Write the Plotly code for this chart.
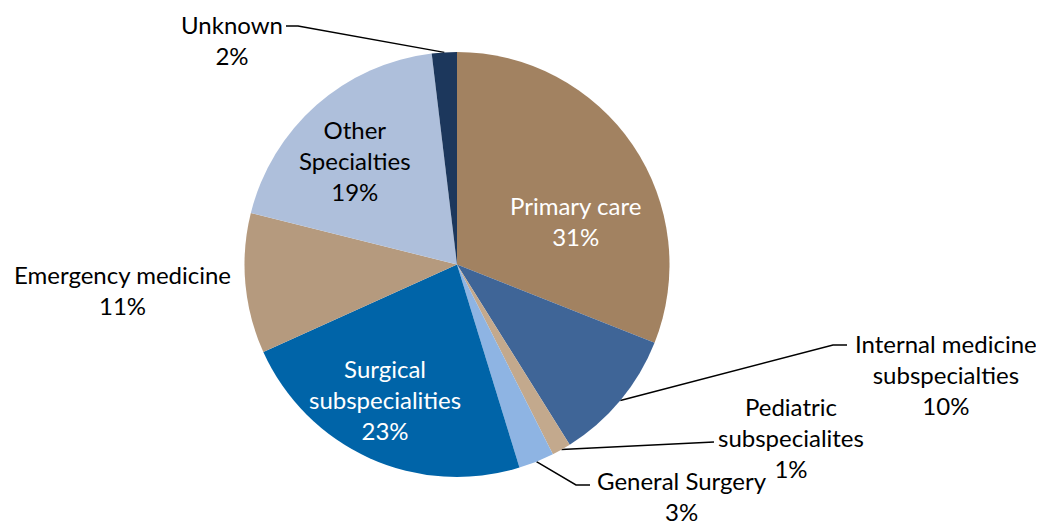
import math
import plotly.graph_objects as go

# ---- data ----
labels = ["Primary care", "Internal medicine<br>subspecialties", "Pediatric<br>subspecialites",
          "General Surgery", "Surgical<br>subspecialities", "Emergency medicine",
          "Other<br>Specialties", "Unknown"]
values = [31.0, 10.1, 1.45, 2.7, 23.0, 10.65, 19.2, 1.9]
colors = ["#A28261", "#3F6597", "#C3A98D", "#8EB4E3", "#0064A8", "#B59A7E", "#AEBFDB", "#1C375C"]

# window geometry (page body has an 8px margin)
WIN_W, WIN_H, OFF = 1044, 526, 8
W, H = WIN_W - OFF, WIN_H - OFF
CX, CY, R = 457, 264.5, 212.5

# label placement (window pixels): (x, y, font colour, leader elbow points or None)
label_pos = [
    (575, 221, "white", None),
    (946, 374, "black", [(833, 345), (847, 345)]),
    (791, 437, "black", [(708, 442), (714, 442)]),
    (682, 496, "black", [(576, 485), (590, 485)]),
    (385, 399, "white", None),
    (122, 290, "black", None),
    (355, 160, "black", None),
    (232, 40, "black", [(298, 26), (286, 26)]),
]

FONT = "Lato, Calibri, Carlito, sans-serif"

fig = go.Figure()
fig.add_trace(go.Pie(
    labels=labels, values=values, sort=False, direction="clockwise", rotation=0,
    marker=dict(colors=colors, line=dict(width=0)),
    textinfo="none", hoverinfo="label+percent", showlegend=False,
    domain=dict(x=[(CX - R - OFF) / W, (CX + R - OFF) / W],
                y=[(WIN_H - CY - R) / H, (WIN_H - CY + R) / H]),
))

# invisible pixel axes for annotations & leader lines (window coordinates)
fig.add_trace(go.Scatter(x=[OFF, WIN_W], y=[OFF, WIN_H], mode="markers", marker=dict(opacity=0),
                         hoverinfo="skip", showlegend=False))

total = sum(values)
cum = 0.0
for i, v in enumerate(values):
    mid = (cum + v / 2) / total * 2 * math.pi
    cum += v
    lx, ly, col, elbow = label_pos[i]
    pct = round(v / total * 100)
    fig.add_annotation(x=lx, y=ly, xref="x", yref="y", showarrow=False,
                       text=f"{labels[i]}<br>{pct}%", align="center", borderpad=0,
                       font=dict(family=FONT, size=24, color=col))
    if elbow:
        sx = CX + R * math.sin(mid)
        sy = CY - R * math.cos(mid)
        pts = [(sx, sy)] + elbow
        fig.add_trace(go.Scatter(x=[p[0] for p in pts], y=[p[1] for p in pts], mode="lines",
                                 line=dict(color="black", width=1.5), hoverinfo="skip",
                                 showlegend=False))

fig.update_xaxes(range=[OFF, WIN_W], visible=False, fixedrange=True)
fig.update_yaxes(range=[WIN_H, OFF], visible=False, fixedrange=True)
fig.update_layout(width=W, height=H, margin=dict(l=0, r=0, t=0, b=0),
                  paper_bgcolor="white", plot_bgcolor="rgba(0,0,0,0)")
fig.write_html("out.html")
